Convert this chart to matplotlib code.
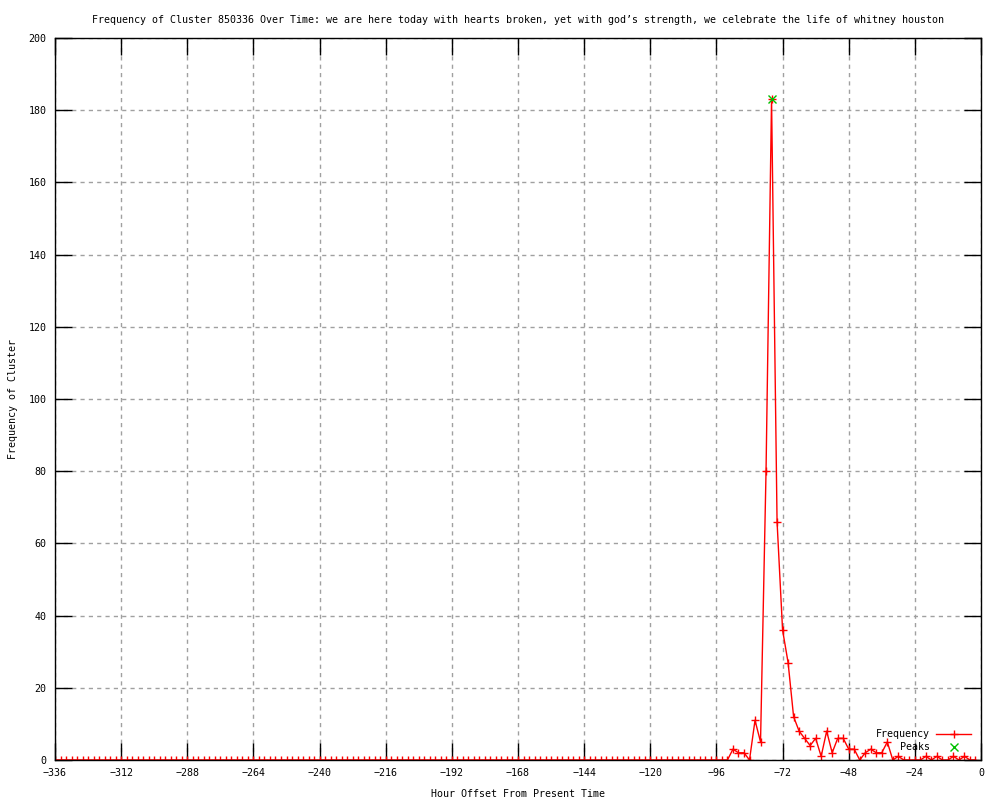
import numpy as np
import matplotlib
matplotlib.use("Agg")
import matplotlib.pyplot as plt

# hours before present, one point every 2 hours
hours = np.arange(-336, 0, 2)

# frequency per 2-hour bin (quiet until -92, then the burst)
quiet = [0] * 123  # -336 .. -92
burst = [3, 2, 2, 0, 11, 5, 80, 183, 66, 36, 27, 12, 8, 6, 4, 6, 1, 8, 2, 6,
         6, 3, 3, 0, 2, 3, 2, 2, 5, 0, 1, 0, 0, 0, 0, 1, 0, 1, 0, 0,
         1, 0, 1, 0, 0]  # -90 .. -2
freq = quiet + burst

peak_hours = [-76]
peak_values = [183]

x_ticks = list(range(-336, 1, 24))
y_ticks = list(range(0, 201, 20))

title = ("Frequency of Cluster 850336 Over Time: we are here today with hearts broken, "
         "yet with god\u2019s strength, we celebrate the life of whitney houston")

plt.rcParams['font.family'] = ['DejaVu Sans Mono']
plt.rcParams['font.size'] = 7.2

fig = plt.figure(figsize=(10, 8), dpi=100)
ax = fig.add_axes([0.055, 0.05, 0.926, 0.9025])

ax.plot(hours, freq, color='red', lw=1, marker='+', ms=6, mew=1, label='Frequency')
ax.plot(peak_hours, peak_values, color='#00c000', ls='none', marker='x', ms=6,
        mew=1, label='Peaks')

ax.set_xlim(-336, 0)
ax.set_ylim(0, 200)
ax.set_xticks(x_ticks)
ax.set_yticks(y_ticks)
ax.set_xticklabels([str(t).replace('-', '\u2212') for t in x_ticks])
ax.tick_params(direction='in', length=12, width=1, top=True, right=True,
               labeltop=False, labelright=False, pad=6)
ax.grid(True, color='#a0a0a0', ls=(0, (3, 3)), lw=1)
for s in ax.spines.values():
    s.set_linewidth(1)

ax.set_xlabel("Hour Offset From Present Time", labelpad=8)
ax.set_ylabel("Frequency of Cluster", labelpad=8)
ax.set_title(title, pad=11, fontsize=7.2)

ax.legend(loc='lower right', bbox_to_anchor=(0.999, -0.002), frameon=False,
          markerfirst=False, handlelength=3.5, labelspacing=0.3,
          handletextpad=0.6, fontsize=7.2)

fig.savefig("out.png", dpi=100)
